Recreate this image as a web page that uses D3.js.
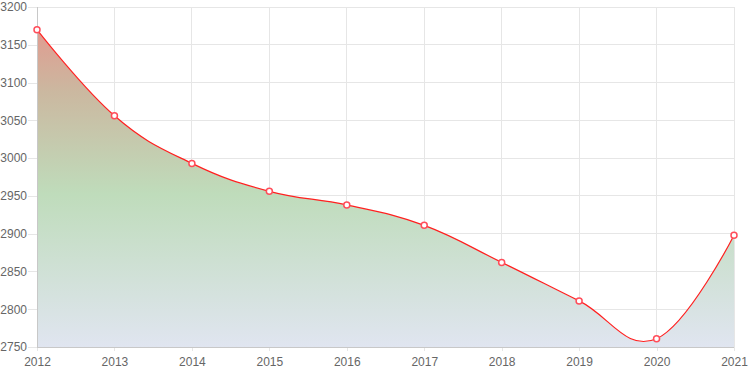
<!DOCTYPE html>
<head>
    <meta charset="utf-8" />
    <title>Yearly values 2012-2021</title>
</head>
<style>
    body {
        margin: 0;
        background-color: #ffffff;
    }
    .grid line {
        stroke: #e6e6e6;
        stroke-width: 1px;
        shape-rendering: crispEdges;
    }
    .axis text {
        font-family: "Liberation Sans", Arial, sans-serif;
        font-size: 12px;
        fill: #666666;
    }
    .axis path {
        display: none;
    }
    .axis line {
        stroke: #e6e6e6;
        shape-rendering: crispEdges;
    }
</style>
<body>
    <svg id="chart" width="750" height="375"></svg>
    <script src="https://d3js.org/d3.v7.min.js"></script>
    <script>
        var years = ["2012", "2013", "2014", "2015", "2016", "2017", "2018", "2019", "2020", "2021"];
        var values = [3170, 3056, 2993, 2956, 2938, 2911, 2862, 2811, 2761, 2898];
        var yTicks = [2750, 2800, 2850, 2900, 2950, 3000, 3050, 3100, 3150, 3200];

        var margin = { top: 7, right: 16, bottom: 28, left: 37 };
        var width = 750 - margin.left - margin.right,
            height = 375 - margin.top - margin.bottom;

        var svg = d3.select("#chart");
        var g = svg.append("g")
            .attr("transform", "translate(" + margin.left + "," + margin.top + ")");

        var x = d3.scalePoint().domain(years).range([0, width]);
        var y = d3.scaleLinear().domain([2750, 3200]).range([height, 0]);

        // gradient for the area
        var defs = svg.append("defs");
        var grad = defs.append("linearGradient")
            .attr("id", "fillGrad")
            .attr("gradientUnits", "userSpaceOnUse")
            .attr("x1", 0).attr("y1", 0)
            .attr("x2", 0).attr("y2", height);
        grad.append("stop").attr("offset", "0%").attr("stop-color", "#e8918a");
        grad.append("stop").attr("offset", "25%").attr("stop-color", "#cbb8a0");
        grad.append("stop").attr("offset", "55%").attr("stop-color", "#bfdcbb");
        grad.append("stop").attr("offset", "100%").attr("stop-color", "#e0e5f0");

        // grid
        g.append("g").attr("class", "grid")
            .selectAll("line").data(yTicks).enter().append("line")
            .attr("x1", 0).attr("x2", width)
            .attr("y1", function(d) { return y(d); })
            .attr("y2", function(d) { return y(d); });
        g.append("g").attr("class", "grid")
            .selectAll("line").data(years).enter().append("line")
            .attr("y1", 0).attr("y2", height)
            .attr("x1", function(d) { return x(d); })
            .attr("x2", function(d) { return x(d); });

        var curve = d3.curveCardinal.tension(-0.2);

        var area = d3.area()
            .x(function(d, i) { return x(years[i]); })
            .y0(height)
            .y1(function(d) { return y(d); })
            .curve(curve);

        var line = d3.line()
            .x(function(d, i) { return x(years[i]); })
            .y(function(d) { return y(d); })
            .curve(curve);

        g.append("path")
            .datum(values)
            .attr("d", area)
            .attr("fill", "url(#fillGrad)");

        // axes
        g.append("g").attr("class", "axis")
            .call(d3.axisLeft(y).tickValues(yTicks).tickSize(9).tickPadding(1).tickFormat(d3.format("d")));
        g.append("g").attr("class", "axis")
            .attr("transform", "translate(0," + height + ")")
            .call(d3.axisBottom(x).tickSize(4).tickPadding(6));

        // axis base lines
        g.append("line")
            .attr("x1", 0).attr("x2", 0).attr("y1", 0).attr("y2", height)
            .attr("stroke", "#c8c8c8").attr("shape-rendering", "crispEdges");
        g.append("line")
            .attr("x1", 0).attr("x2", width).attr("y1", height).attr("y2", height)
            .attr("stroke", "#c8c8c8").attr("shape-rendering", "crispEdges");

        g.append("path")
            .datum(values)
            .attr("d", line)
            .attr("fill", "none")
            .attr("stroke", "#ff2020")
            .attr("stroke-width", 1.2);

        g.selectAll(".dot")
            .data(values)
            .enter().append("circle")
            .attr("class", "dot")
            .attr("cx", function(d, i) { return x(years[i]); })
            .attr("cy", function(d) { return y(d); })
            .attr("r", 3)
            .attr("fill", "#ffffff")
            .attr("stroke", "#ff4d5a")
            .attr("stroke-width", 1.5);
    </script>
</body>
